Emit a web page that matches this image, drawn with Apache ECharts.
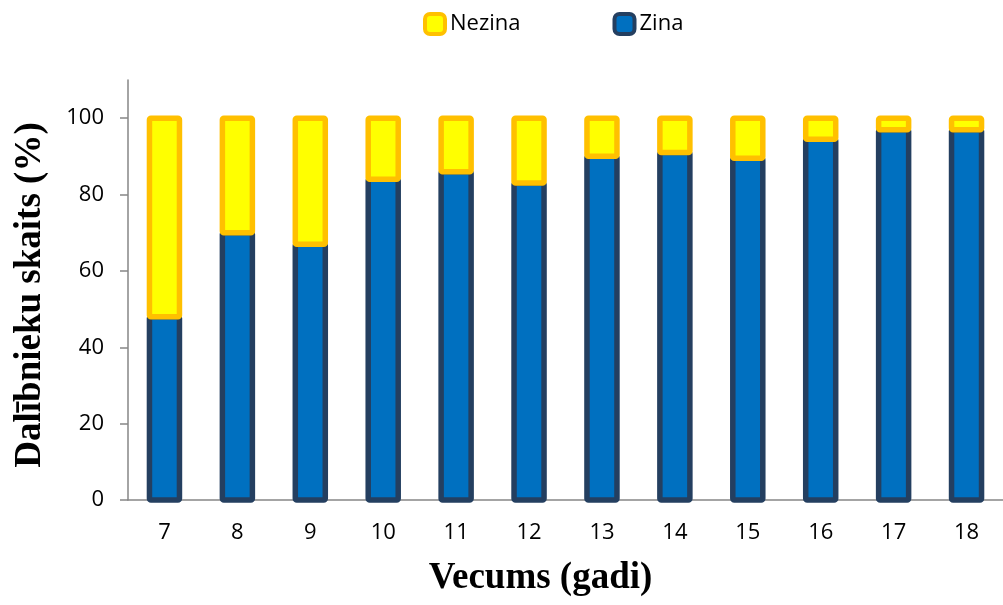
<!DOCTYPE html>
<html>
<head>
<meta charset="utf-8">
<script src="https://cdn.jsdelivr.net/npm/echarts@6/dist/echarts.min.js"></script>
<style>html,body{margin:0;padding:0;background:#fff}#c{width:1003px;height:605px}</style>
</head>
<body>
<div id="c"></div>
<script>
const categories = ['7','8','9','10','11','12','13','14','15','16','17','18'];
const zina = [48, 70, 67, 84, 86, 83, 90, 91, 89.5, 94.5, 97, 97];
const nezina = [52, 30, 33, 16, 14, 17, 10, 9, 10.5, 5.5, 3, 3];
const yTicks = [0, 20, 40, 60, 80, 100];

const zinaData = categories.map((c, i) => [i, 0, zina[i]]);
const nezinaData = categories.map((c, i) => [i, zina[i], zina[i] + nezina[i]]);

const BLUE = '#0070C0', NAVY = '#243F60', YELLOW = '#FFFF00', ORANGE = '#FFC000';

function makeRender(fill, stroke) {
  return function (params, api) {
    const i = api.value(0);
    const p0 = api.coord([i, api.value(1)]);
    const p1 = api.coord([i, api.value(2)]);
    const w = 30;
    return {
      type: 'rect',
      shape: { x: p0[0] - w / 2, y: p1[1], width: w, height: p0[1] - p1[1], r: 1.5 },
      style: { fill: fill, stroke: stroke, lineWidth: 5.5, lineJoin: 'round' }
    };
  };
}

const chart = echarts.init(document.getElementById('c'));
const labelFont = '"Open Sans", "Noto Sans", sans-serif';
const titleFont = '"Liberation Serif", "Times New Roman", serif';
chart.setOption({
  animation: false,
  legend: {
    data: [
      { name: 'Nezina', itemStyle: { color: YELLOW, borderColor: ORANGE, borderWidth: 4 } },
      { name: 'Zina', itemStyle: { color: BLUE, borderColor: NAVY, borderWidth: 4 } }
    ],
    icon: 'roundRect',
    left: 423, top: 12, padding: 0,
    itemWidth: 20, itemHeight: 20, itemGap: 92,
    textStyle: { fontFamily: labelFont, fontSize: 22, color: '#000' }
  },
  grid: { left: 128, top: 80, width: 886, height: 420 },
  xAxis: {
    type: 'category',
    data: categories,
    name: 'Vecums (gadi)',
    nameLocation: 'middle',
    nameGap: 60,
    nameTextStyle: { fontFamily: titleFont, fontSize: 37, fontWeight: 'bold', color: '#000', padding: [0, 50, 0, 0] },
    axisLine: { lineStyle: { color: '#868686', width: 1.5 } },
    axisTick: { length: 8, lineStyle: { color: '#868686', width: 1.5 } },
    axisLabel: { fontFamily: labelFont, fontSize: 22, color: '#000', margin: 22 }
  },
  yAxis: {
    type: 'value',
    min: 0, max: 110,
    name: 'Dalībnieku skaits (%)',
    nameLocation: 'middle',
    nameGap: 79,
    nameTextStyle: { fontFamily: titleFont, fontSize: 37, fontWeight: 'bold', color: '#000', padding: [0, 10, 0, 0] },
    axisLine: { show: true, lineStyle: { color: '#868686', width: 1.5 } },
    axisTick: { show: true, length: 8, customValues: yTicks, lineStyle: { color: '#868686', width: 1.5 } },
    axisLabel: { fontFamily: labelFont, fontSize: 22, color: '#000', margin: 24, customValues: yTicks },
    splitLine: { show: false }
  },
  series: [
    {
      name: 'Zina', type: 'custom', data: zinaData, encode: { x: 0, y: [1, 2] },
      itemStyle: { color: BLUE, borderColor: NAVY, borderWidth: 4 },
      renderItem: makeRender(BLUE, NAVY), z: 2
    },
    {
      name: 'Nezina', type: 'custom', data: nezinaData, encode: { x: 0, y: [1, 2] },
      itemStyle: { color: YELLOW, borderColor: ORANGE, borderWidth: 4 },
      renderItem: makeRender(YELLOW, ORANGE), z: 3
    }
  ]
});
</script>
</body>
</html>
